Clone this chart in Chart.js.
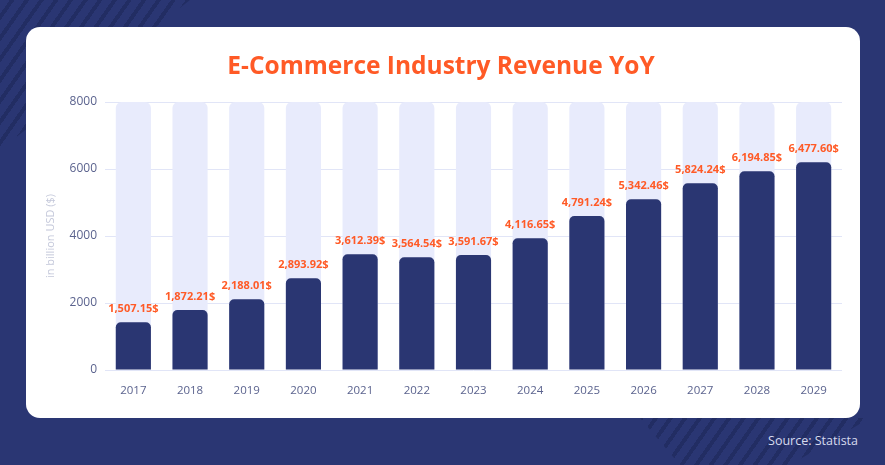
<!DOCTYPE html>
<html>
<head>
    <title>E-Commerce Industry Revenue YoY</title>
    <script src="https://cdn.jsdelivr.net/npm/chart.js"></script>
    <style>
        html, body { margin: 0; padding: 0; }
        body {
            width: 885px; height: 465px; overflow: hidden; position: relative;
            background: #2a3673;
            font-family: "Open Sans", sans-serif;
        }
        .stripes {
            position: absolute;
            background: repeating-linear-gradient(125deg, transparent 0 8px, #222d63 8px 12px);
        }
        #stripesTop { left: 0; top: 0; width: 200px; height: 160px; clip-path: polygon(0 0, 190px 0, 0 150px); }
        #stripesBottom { left: 620px; top: 410px; width: 260px; height: 55px; clip-path: polygon(20px 8px, 250px 8px, 170px 55px, 60px 55px); }
        .card {
            position: absolute; left: 26px; top: 27px; width: 834px; height: 391px;
            background: #fff; border-radius: 14px; overflow: hidden;
        }
        .source {
            position: absolute; right: 27px; top: 432px;
            color: #d6daee; font-size: 12.5px;
        }
    </style>
</head>
<body>
    <div class="stripes" id="stripesTop"></div>
    <div class="stripes" id="stripesBottom"></div>
    <div class="card">
        <canvas id="myChart" width="834" height="391"></canvas>
    </div>
    <div class="source">Source: Statista</div>

    <script>
        var years = ['2017', '2018', '2019', '2020', '2021', '2022', '2023', '2024', '2025', '2026', '2027', '2028', '2029'];
        // bar heights as drawn in the picture
        var revenue = [1424, 1791, 2110, 2737, 3454, 3364, 3433, 3931, 4597, 5095, 5573, 5931, 6200];
        // printed value labels
        var revenueLabels = ['1,507.15$', '1,872.21$', '2,188.01$', '2,893.92$', '3,612.39$', '3,564.54$', '3,591.67$',
            '4,116.65$', '4,791.24$', '5,342.46$', '5,824.24$', '6,194.85$', '6,477.60$'];
        var track = [8000, 8000, 8000, 8000, 8000, 8000, 8000, 8000, 8000, 8000, 8000, 8000, 8000];
        var yTicks = [0, 2000, 4000, 6000, 8000];

        var orange = '#ff5a26';
        var navy = '#2a3672';

        var valueLabels = {
            id: 'valueLabels',
            afterDatasetsDraw: function (chart) {
                var ctx = chart.ctx;
                var meta = chart.getDatasetMeta(0);
                ctx.save();
                ctx.fillStyle = orange;
                ctx.font = 'bold 11px "Open Sans"';
                ctx.textAlign = 'center';
                ctx.textBaseline = 'middle';
                meta.data.forEach(function (bar, i) {
                    ctx.fillText(revenueLabels[i], bar.x, bar.y - 13);
                });
                ctx.restore();
            }
        };

        var ctx = document.getElementById('myChart').getContext('2d');
        var myChart = new Chart(ctx, {
            type: 'bar',
            data: {
                labels: years,
                datasets: [{
                    data: revenue,
                    backgroundColor: navy,
                    borderRadius: { topLeft: 5, topRight: 5 },
                    borderSkipped: 'bottom',
                    barPercentage: 0.62,
                    categoryPercentage: 1,
                    grouped: false
                }, {
                    data: track,
                    backgroundColor: '#e8ebfc',
                    borderRadius: { topLeft: 6, topRight: 6 },
                    borderSkipped: 'bottom',
                    barPercentage: 0.62,
                    categoryPercentage: 1,
                    grouped: false
                }]
            },
            options: {
                responsive: false,
                animation: false,
                layout: { padding: { left: 14, right: 18, top: 0, bottom: 0 } },
                plugins: {
                    legend: { display: false },
                    tooltip: { enabled: false },
                    title: {
                        display: true,
                        text: 'E-Commerce Industry Revenue YoY',
                        color: orange,
                        font: { family: 'Open Sans', size: 24.5, weight: 'bold' },
                        padding: { top: 25.3, bottom: 20.3 }
                    }
                },
                scales: {
                    x: {
                        grid: { display: false },
                        border: { display: false },
                        ticks: { color: '#5b638e', font: { family: 'Open Sans', size: 11.5 }, padding: 6 },
                        afterFit: function (scale) { scale.height = 48; }
                    },
                    y: {
                        min: 0,
                        max: 8000,
                        afterBuildTicks: function (scale) {
                            scale.ticks = yTicks.map(function (v) { return { value: v }; });
                        },
                        ticks: {
                            color: '#5b638e', font: { family: 'Open Sans', size: 12 }, padding: 8,
                            callback: function (v) { return String(v); }
                        },
                        grid: { color: '#e1e5f7', drawTicks: false },
                        border: { display: false },
                        title: {
                            display: true,
                            text: 'in billion USD ($)',
                            color: '#c4c8da',
                            font: { family: 'Open Sans', size: 11 },
                            padding: { top: 4.4, bottom: 0 }
                        },
                        afterFit: function (scale) { scale.width = 65; }
                    }
                }
            },
            plugins: [valueLabels]
        });
    </script>
</body>
</html>
